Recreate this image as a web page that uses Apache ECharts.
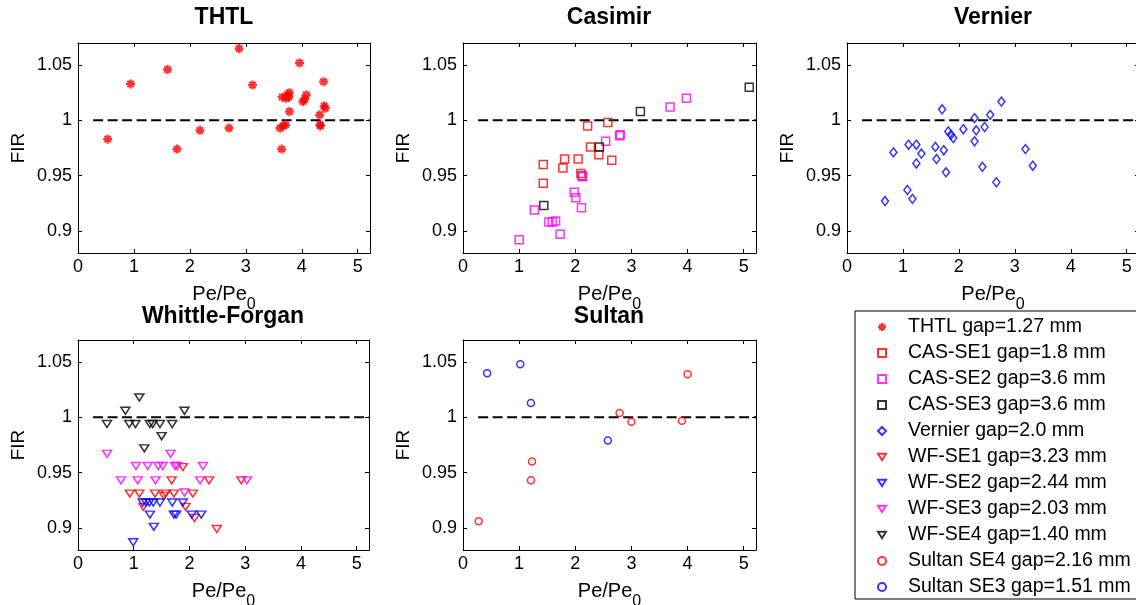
<!DOCTYPE html>
<html>
<head>
<meta charset="utf-8">
<script src="https://cdn.jsdelivr.net/npm/echarts@6/dist/echarts.min.js"></script>
<style>
  html, body { margin: 0; padding: 0; background: #fff; }
  #main { width: 1136px; height: 605px; }
</style>
</head>
<body>
<div id="main"></div>
<script>
// panel data
const thtlX = [0.53, 0.94, 1.60, 1.77, 2.18, 2.70, 2.88, 3.12, 3.96, 4.39, 3.65, 3.74, 3.77, 3.78, 3.72, 3.78, 4.02, 4.08, 4.05, 4.32, 4.42, 4.40, 4.33, 3.61, 3.67, 3.71, 3.64, 4.33]
const thtlY = [0.983, 1.033, 1.046, 0.974, 0.991, 0.993, 1.065, 1.032, 1.052, 1.035, 1.021, 1.023, 1.021, 1.025, 1.020, 1.008, 1.017, 1.023, 1.019, 1.005, 1.011, 1.013, 0.995, 0.993, 0.995, 0.996, 0.974, 0.996]

const cas1X = [1.43, 1.43, 1.81, 1.78, 2.05, 2.10, 2.22, 2.27, 2.42, 2.58, 2.65, 2.12]
const cas1Y = [0.960, 0.943, 0.965, 0.957, 0.965, 0.952, 0.995, 0.976, 0.969, 0.998, 0.964, 0.950]
const cas2X = [1.00, 1.27, 1.53, 1.59, 1.65, 1.73, 1.98, 2.01, 2.11, 2.13, 2.54, 2.79, 2.80, 3.69, 3.98]
const cas2Y = [0.892, 0.919, 0.908, 0.908, 0.909, 0.897, 0.935, 0.930, 0.921, 0.949, 0.981, 0.986, 0.987, 1.012, 1.020]
const cas3X = [1.44, 2.43, 3.16, 5.10]
const cas3Y = [0.923, 0.976, 1.008, 1.030]

const vernX = [0.68, 0.83, 1.08, 1.10, 1.17, 1.24, 1.24, 1.33, 1.58, 1.60, 1.70, 1.73, 1.77, 1.81, 1.86, 1.90, 2.08, 2.28, 2.28, 2.31, 2.42, 2.46, 2.56, 2.67, 2.76, 3.19, 3.32]
const vernY = [0.927, 0.971, 0.937, 0.978, 0.929, 0.961, 0.978, 0.970, 0.976, 0.965, 1.010, 0.973, 0.953, 0.990, 0.987, 0.984, 0.992, 1.002, 0.981, 0.991, 0.958, 0.994, 1.005, 0.944, 1.017, 0.974, 0.959]

const wf1X = [0.93, 1.10, 1.17, 1.38, 1.54, 1.57, 1.72, 1.68, 1.88, 1.93, 2.06, 2.09, 2.35, 2.49, 2.93]
const wf1Y = [0.931, 0.931, 0.919, 0.931, 0.929, 0.931, 0.931, 0.943, 0.955, 0.919, 0.931, 0.909, 0.943, 0.899, 0.943]
const wf2X = [0.99, 1.36, 1.29, 1.16, 1.22, 1.28, 1.35, 1.47, 1.69, 1.88, 1.72, 1.76, 2.04, 2.21]
const wf2Y = [0.887, 0.901, 0.912, 0.923, 0.923, 0.923, 0.923, 0.923, 0.923, 0.923, 0.912, 0.912, 0.912, 0.912]
const wf3X = [0.52, 0.77, 1.04, 1.07, 1.25, 1.39, 1.44, 1.52, 1.66, 1.74, 1.78, 1.91, 2.24, 2.19, 3.03]
const wf3Y = [0.967, 0.943, 0.956, 0.943, 0.956, 0.943, 0.956, 0.956, 0.967, 0.956, 0.956, 0.932, 0.956, 0.943, 0.943]
const wf4X = [1.10, 0.85, 0.52, 0.92, 1.03, 1.29, 1.34, 1.47, 1.69, 1.50, 1.19, 1.91]
const wf4Y = [1.018, 1.006, 0.994, 0.994, 0.994, 0.994, 0.994, 0.994, 0.994, 0.983, 0.972, 1.006]

const sul4X = [0.28, 1.21, 1.23, 2.79, 3.00, 3.90, 4.00]
const sul4Y = [0.906, 0.943, 0.960, 1.004, 0.996, 0.997, 1.039]
const sul3X = [0.43, 1.02, 1.21, 2.58]
const sul3Y = [1.040, 1.048, 1.013, 0.979]

// FIR = 1 reference
const refX = [0.27, 5.22]
const refY = [1, 1]

const panelTitles = ['THTL', 'Casimir', 'Vernier', 'Whittle-Forgan', 'Sultan']
const xTicks = [0, 1, 2, 3, 4, 5]
const yTicks = [0.9, 0.95, 1, 1.05]

const font = 'Arial, "Liberation Sans", sans-serif'
const zip = (xs, ys) => xs.map((x, i) => [x, ys[i]])

const grids = [
  {left: 78, top: 43, width: 292, height: 210},
  {left: 463, top: 43, width: 293, height: 210},
  {left: 847, top: 43, width: 292, height: 210},
  {left: 78, top: 340, width: 291, height: 210},
  {left: 463, top: 340, width: 293, height: 210}
]

const isTick = (list, v) => list.some(t => Math.abs(t - v) < 1e-6)

const xAxes = []
const yAxes = []
grids.forEach((g, i) => {
  const baseX = {
    type: 'value', gridIndex: i, min: 0, max: 5.22, interval: 1,
    axisLine: {show: true, onZero: false, lineStyle: {color: '#000', width: 1}},
    axisTick: {show: true, inside: true, length: 4, lineStyle: {color: '#000'}},
    splitLine: {show: false}
  }
  const baseY = {
    type: 'value', gridIndex: i, min: 0.88, max: 1.07, splitNumber: 4,
    axisLine: {show: true, onZero: false, lineStyle: {color: '#000', width: 1}},
    axisTick: {show: true, inside: true, length: 4, lineStyle: {color: '#000'}},
    splitLine: {show: false}
  }
  xAxes.push(Object.assign({}, baseX, {
    position: 'bottom',
    axisLabel: {
      color: '#000', fontSize: 18, fontFamily: font, margin: 5,
      formatter: v => isTick(xTicks, v) ? String(Math.round(v)) : ''
    },
    name: 'Pe/Pe{s|0}', nameLocation: 'middle', nameGap: 22,
    nameTextStyle: {
      color: '#000', fontSize: 20, fontFamily: font,
      rich: {s: {fontSize: 16, fontFamily: font, color: '#000', padding: [22, 0, 0, 0]}}
    }
  }))
  yAxes.push(Object.assign({}, baseY, {
    position: 'left',
    axisLabel: {
      color: '#000', fontSize: 18, fontFamily: font, margin: 6,
      formatter: v => isTick(yTicks, v) ? String(+v.toFixed(2)) : ''
    },
    name: 'FIR', nameLocation: 'middle', nameGap: 50, nameRotate: 90,
    nameTextStyle: {color: '#000', fontSize: 19, fontFamily: font}
  }))
})
// mirrored box axes (top / right)
grids.forEach((g, i) => {
  xAxes.push({
    type: 'value', gridIndex: i, min: 0, max: 5.22, interval: 1, position: 'top',
    axisLine: {show: true, onZero: false, lineStyle: {color: '#000', width: 1}},
    axisTick: {show: true, inside: true, length: 4, lineStyle: {color: '#000'}},
    axisLabel: {show: false}, splitLine: {show: false}
  })
  yAxes.push({
    type: 'value', gridIndex: i, min: 0.88, max: 1.07, splitNumber: 4, position: 'right',
    axisLine: {show: true, onZero: false, lineStyle: {color: '#000', width: 1}},
    axisTick: {show: true, inside: true, length: 4, lineStyle: {color: '#000'}},
    axisLabel: {show: false}, splitLine: {show: false}
  })
})

const starPath = 'path://M5,0L5,10M0,5L10,5M1.5,1.5L8.5,8.5M8.5,1.5L1.5,8.5'
const downTri = 'path://M0,0L10,0L5,8Z'

const hollow = (name, grid, xs, ys, color, symbol, size) => ({
  type: 'scatter', name: name, xAxisIndex: grid, yAxisIndex: grid,
  data: zip(xs, ys), symbol: symbol, symbolSize: size,
  itemStyle: {color: 'rgba(0,0,0,0)', borderColor: color, borderWidth: 1.5},
  emphasis: {disabled: true}, z: 3
})

const series = []
grids.forEach((g, i) => {
  series.push({
    type: 'line', name: 'ref' + i, xAxisIndex: i, yAxisIndex: i,
    data: zip(refX, refY), symbol: 'none', silent: true,
    lineStyle: {color: '#000', width: 2, type: [10, 4.5]}, z: 2
  })
})
series.push({
  type: 'scatter', name: 'THTL gap=1.27 mm', xAxisIndex: 0, yAxisIndex: 0,
  data: zip(thtlX, thtlY), symbol: starPath, symbolSize: 9,
  itemStyle: {color: '#ff0000', borderColor: '#ff0000', borderWidth: 2.2},
  emphasis: {disabled: true}, z: 3
})
series.push(hollow('CAS-SE1 gap=1.8 mm', 1, cas1X, cas1Y, '#ff0000', 'rect', 8))
series.push(hollow('CAS-SE2 gap=3.6 mm', 1, cas2X, cas2Y, '#ff00ff', 'rect', 8))
series.push(hollow('CAS-SE3 gap=3.6 mm', 1, cas3X, cas3Y, '#000000', 'rect', 8))
series.push(hollow('Vernier gap=2.0 mm', 2, vernX, vernY, '#0000ff', 'diamond', [7, 9]))
series.push(hollow('WF-SE1 gap=3.23 mm', 3, wf1X, wf1Y, '#ff0000', downTri, [9, 7]))
series.push(hollow('WF-SE2 gap=2.44 mm', 3, wf2X, wf2Y, '#0000ff', downTri, [9, 7]))
series.push(hollow('WF-SE3 gap=2.03 mm', 3, wf3X, wf3Y, '#ff00ff', downTri, [9, 7]))
series.push(hollow('WF-SE4 gap=1.40 mm', 3, wf4X, wf4Y, '#000000', downTri, [9, 7]))
series.push(hollow('Sultan SE4 gap=2.16 mm', 4, sul4X, sul4Y, '#ff0000', 'circle', 7))
series.push(hollow('Sultan SE3 gap=1.51 mm', 4, sul3X, sul3Y, '#0000ff', 'circle', 7))

const legendNames = series.filter(s => s.type === 'scatter').map(s => s.name)

const titleCenters = [[224, 6], [609, 6], [993, 6], [223, 305], [609, 305]]

const chart = echarts.init(document.getElementById('main'), null, {renderer: 'canvas'})
chart.setOption({
  animation: false,
  backgroundColor: '#fff',
  title: panelTitles.map((t, i) => ({
    text: t, left: titleCenters[i][0], top: titleCenters[i][1], textAlign: 'center',
    padding: 0,
    textStyle: {fontSize: 23, fontWeight: 'bold', fontFamily: font, color: '#000'}
  })),
  legend: {
    orient: 'vertical', left: 855, top: 311,
    padding: [6, 10, 2, 22], itemGap: 6, itemWidth: 8, itemHeight: 8,
    borderColor: '#000', borderWidth: 1, borderRadius: 0,
    selectedMode: false, data: legendNames,
    textStyle: {fontSize: 19.5, fontFamily: font, color: '#000', lineHeight: 20, padding: [0, 0, 0, 17]}
  },
  grid: grids.map(g => Object.assign({containLabel: false, outerBoundsMode: 'none'}, g)),
  xAxis: xAxes,
  yAxis: yAxes,
  series: series
})
</script>
</body>
</html>
